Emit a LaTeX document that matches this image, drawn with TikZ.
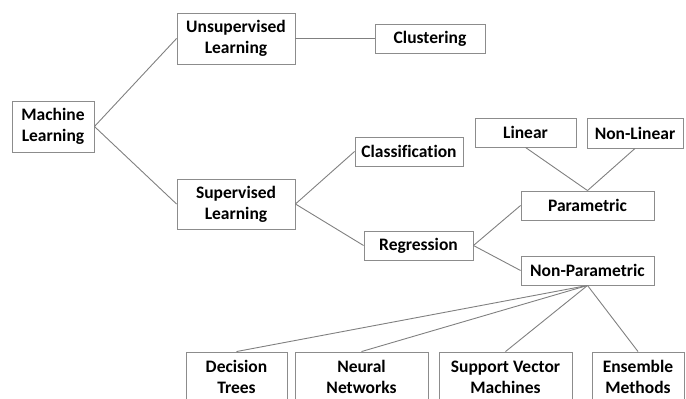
\documentclass[tikz,border=0pt]{standalone}
\usepackage{fontspec}
\setmainfont[Ligatures=NoCommon]{Carlito}
\usepackage{tikz}

\tikzset{
    box/.style={draw=gray!90, fill=white, line width=0.9pt, font=\fontsize{17.5}{21}\selectfont\bfseries,
        align=center, inner sep=0pt, minimum height=29pt},
    link/.style={draw=gray, line width=0.9pt}
}

\begin{document}
\begin{tikzpicture}[x=1pt,y=-1pt]
        \useasboundingbox (0,0) rectangle (686,399);
        \clip (0,0) rectangle (686,399);

        % root and first level
        \node[box, minimum width=82pt, minimum height=51pt] (ml) at (53,126.5) {Machine\\Learning};
        \node[box, minimum width=118pt, minimum height=51pt] (unsup) at (236,38.5) {Unsupervised\\Learning};
        \node[box, minimum width=118pt, minimum height=50pt] (sup) at (236,204) {Supervised\\Learning};

        % second level
        \node[box, minimum width=110pt] (clust) at (430,38.5) {Clustering};
        \node[box, minimum width=108pt] (classif) at (409,151.5) {Classification};
        \node[box, minimum width=109pt] (regr) at (418.5,245.5) {Regression};

        % regression branches
        \node[box, minimum width=133pt] (param) at (587.5,205.5) {Parametric};
        \node[box, minimum width=133pt] (nonpar) at (587.5,270.5) {Non-Parametric};
        \node[box, minimum width=101pt] (linear) at (525.5,132.5) {Linear};
        \node[box, minimum width=96pt, minimum height=30pt] (nonlin) at (635,133) {Non-Linear};

        % methods (cut at the bottom)
        \node[box, minimum width=101pt, minimum height=50pt] (dtree) at (236.5,377) {Decision\\Trees};
        \node[box, minimum width=133pt, minimum height=50pt] (nnet) at (361.5,377) {Neural\\Networks};
        \node[box, minimum width=133pt, minimum height=50pt] (svm) at (505.5,377) {Support Vector\\Machines};
        \node[box, minimum width=92pt, minimum height=50pt] (ens) at (638,377) {Ensemble\\Methods};

        % connectors
        \draw[link] (ml.east) -- (unsup.west);
        \draw[link] (ml.east) -- (sup.west);
        \draw[link] (unsup.east) -- (clust.west);
        \draw[link] (sup.east) -- (classif.west);
        \draw[link] (sup.east) -- (regr.west);
        \draw[link] (regr.east) -- (param.west);
        \draw[link] (regr.east) -- (nonpar.west);
        \draw[link] (linear.south) -- (param.north);
        \draw[link] (nonlin.south) -- (param.north);
        \foreach \m in {dtree,nnet,svm,ens}
            \draw[link] (nonpar.south) -- (\m.north);
    \end{tikzpicture}
\end{document}
